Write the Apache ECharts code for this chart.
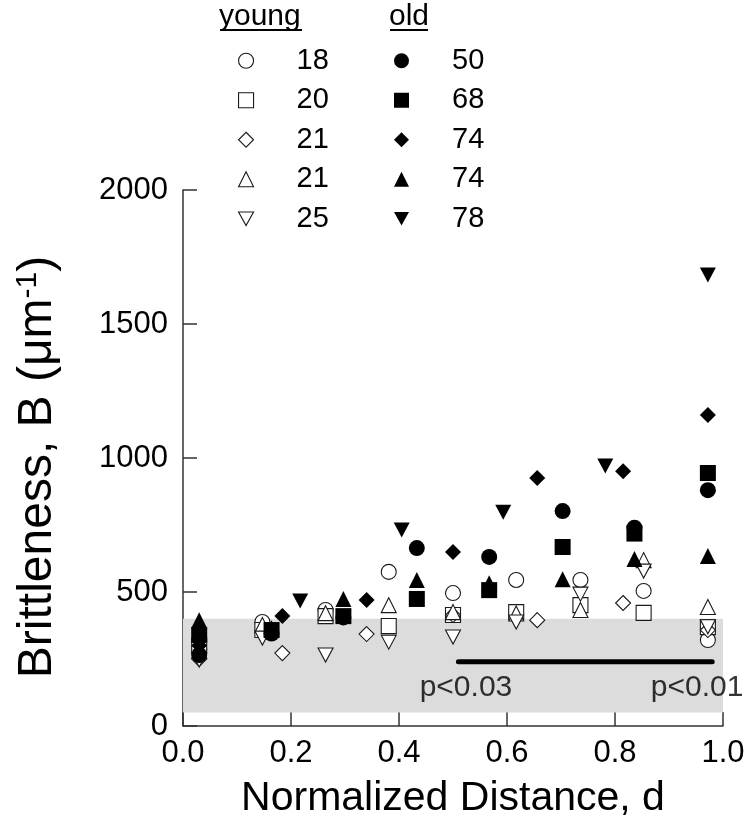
<!DOCTYPE html>
<html>
<head>
<meta charset="utf-8">
<script src="https://cdn.jsdelivr.net/npm/echarts@6/dist/echarts.min.js"></script>
<style>html,body{margin:0;padding:0;background:#fff}#c{width:750px;height:833px}</style>
</head>
<body>
<div id="c"></div>
<script>
// Normalized distance positions (d)
const dYoung = [0.03, 0.147, 0.264, 0.381, 0.5, 0.617, 0.736, 0.853, 0.972];
const dDiamond = [0.03, 0.184, 0.34, 0.5, 0.656, 0.815, 0.972];
const dOld = [0.03, 0.164, 0.297, 0.433, 0.567, 0.703, 0.836, 0.972];
const dOld78 = [0.03, 0.217, 0.405, 0.593, 0.782, 0.972];

// Brittleness values (µm^-1)
const young18 = [285, 388, 433, 575, 496, 545, 545, 504, 321];
const young20 = [300, 358, 410, 373, 414, 425, 451, 422, 369];
const young21d = [250, 272, 343, 414, 395, 459, 358];
const young21t = [280, 377, 421, 451, 425, 420, 433, 619, 444];
const young25 = [246, 328, 265, 313, 332, 388, 492, 578, 370];

const old50 = [265, 345, 405, 664, 631, 802, 740, 880];
const old68 = [340, 358, 410, 474, 507, 668, 718, 944];
const old74d = [300, 410, 470, 649, 925, 951, 1160];
const old74t = [395, 365, 474, 545, 533, 548, 623, 634];
const old78 = [300, 466, 731, 798, 970, 1683];

const youngAges = ['18', '20', '21', '21', '25'];
const oldAges = ['50', '68', '74', '74', '78'];
const groupHeaders = ['young', 'old'];

const xTicks = [0, 0.2, 0.4, 0.6, 0.8, 1.0];
const yTicks = [0, 500, 1000, 1500, 2000];

// reference band and significance bar
const bandRange = [50, 400];
const sigBar = [[0.51, 240], [0.98, 240]];
const pLabels = ['p<0.03', 'p<0.01'];
const pLabelPos = [[0.524, 142], [0.952, 142]];

const FONT = 'Liberation Sans, Arial, sans-serif';
function pairs(xs, ys) { return xs.map((x, i) => [x, ys[i]]); }

const youngIds = ['y18', 'y20', 'y21d', 'y21t', 'y25'];
const oldIds = ['o50', 'o68', 'o74d', 'o74t', 'o78'];
const nameMap = {};
youngIds.forEach((k, i) => nameMap[k] = youngAges[i]);
oldIds.forEach((k, i) => nameMap[k] = oldAges[i]);

const INV_TRI = 'path://M0,0L20,0L10,18Z';
const shapes = [
  { symbol: 'circle', size: [15, 15] },
  { symbol: 'rect', size: [15, 15] },
  { symbol: 'diamond', size: [15, 15] },
  { symbol: 'triangle', size: [15, 15] },
  { symbol: INV_TRI, size: [15, 14] }
];
const youngData = [pairs(dYoung, young18), pairs(dYoung, young20), pairs(dDiamond, young21d), pairs(dYoung, young21t), pairs(dYoung, young25)];
const oldData = [pairs(dOld, old50), pairs(dOld, old68), pairs(dDiamond, old74d), pairs(dOld, old74t), pairs(dOld78, old78)];

const openStyle = { color: '#ffffff', borderColor: '#1a1a1a', borderWidth: 1.1, opacity: 1 };
const fillStyle = { color: '#000000', borderWidth: 0, opacity: 1 };

const series = [];
// band
series.push({
  type: 'line', data: [], silent: true, z: 0,
  markArea: { silent: true, itemStyle: { color: '#dcdcdc' },
    data: [[{ xAxis: 0, yAxis: bandRange[0] }, { xAxis: 1, yAxis: bandRange[1] }]] }
});
youngIds.forEach((id, i) => {
  series.push({
    name: id, type: 'scatter', data: youngData[i], z: 3,
    symbol: shapes[i].symbol, symbolSize: shapes[i].size,
    itemStyle: openStyle, emphasis: { disabled: true }
  });
});
oldIds.forEach((id, i) => {
  series.push({
    name: id, type: 'scatter', data: oldData[i], z: 4,
    symbol: shapes[i].symbol, symbolSize: shapes[i].size.map(s => s + 1),
    itemStyle: fillStyle, emphasis: { disabled: true }
  });
});
// significance bar
series.push({
  type: 'line', data: sigBar, symbol: 'none', silent: true, z: 5,
  lineStyle: { color: '#000', width: 5, cap: 'round' }
});
// p labels
series.push({
  type: 'scatter', silent: true, z: 6, symbolSize: 1,
  itemStyle: { color: 'rgba(0,0,0,0)' },
  data: pLabelPos.map((p, i) => ({ value: p, name: pLabels[i] })),
  label: { show: true, position: 'inside', formatter: '{b}', fontSize: 30, color: '#000', fontFamily: FONT }
});

function legendItems(ids, style) {
  return ids.map((id, i) => ({ name: id, icon: shapes[i].symbol, itemStyle: style }));
}

const legendCommon = {
  orient: 'vertical', top: 41, padding: 0, itemGap: 0,
  itemWidth: 15, itemHeight: 15, selectedMode: false,
  formatter: n => nameMap[n],
  textStyle: { fontSize: 29, color: '#000', fontFamily: FONT, lineHeight: 39.5, padding: [0, 0, 0, 38] }
};

const option = {
  animation: false,
  backgroundColor: '#fff',
  grid: { left: 183, right: 27, top: 190, bottom: 107 },
  xAxis: {
    type: 'value', min: 0, max: 1, interval: 0.2,
    name: 'Normalized Distance, d', nameLocation: 'middle', nameGap: 52,
    nameTextStyle: { fontSize: 41, color: '#000', fontFamily: FONT },
    axisLine: { show: true, onZero: false, lineStyle: { color: '#333', width: 1.5 } },
    axisTick: { show: true, inside: true, length: 14, lineStyle: { color: '#333', width: 1.5 } },
    axisLabel: { fontSize: 31, color: '#000', margin: 12, fontFamily: FONT,
      formatter: v => (xTicks.indexOf(Math.round(v * 10) / 10) >= 0 ? v.toFixed(1) : '') },
    splitLine: { show: false }
  },
  yAxis: {
    type: 'value', min: 0, max: 2000, interval: 500,
    name: 'Brittleness, B (μm{sup|-1})', nameLocation: 'middle', nameGap: 120,
    nameTextStyle: { fontSize: 48, color: '#000', fontFamily: FONT, padding: [0, 18, 0, 0],
      rich: { sup: { fontSize: 30, verticalAlign: 'top', fontFamily: FONT, color: '#000', padding: [0, 0, 20, 0] } } },
    axisLine: { show: true, onZero: false, lineStyle: { color: '#333', width: 1.5 } },
    axisTick: { show: true, inside: true, length: 14, lineStyle: { color: '#333', width: 1.5 } },
    axisLabel: { fontSize: 31, color: '#000', margin: 15, fontFamily: FONT,
      formatter: v => (yTicks.indexOf(v) >= 0 ? String(v) : '') },
    splitLine: { show: false }
  },
  legend: [
    Object.assign({}, legendCommon, { left: 238, data: legendItems(youngIds, openStyle) }),
    Object.assign({}, legendCommon, { left: 394, data: legendItems(oldIds, fillStyle) })
  ],
  graphic: [
    { type: 'text', left: 219, top: 2, style: { text: groupHeaders[0], fontSize: 30, fill: '#000', font: '30px ' + FONT } },
    { type: 'line', shape: { x1: 220, y1: 30, x2: 302, y2: 30 }, style: { stroke: '#000', lineWidth: 2 } },
    { type: 'text', left: 389, top: 2, style: { text: groupHeaders[1], fontSize: 30, fill: '#000', font: '30px ' + FONT } },
    { type: 'line', shape: { x1: 390, y1: 30, x2: 428, y2: 30 }, style: { stroke: '#000', lineWidth: 2 } }
  ],
  series: series
};

const chart = echarts.init(document.getElementById('c'), null, { renderer: 'canvas' });
chart.setOption(option);
</script>
</body>
</html>
